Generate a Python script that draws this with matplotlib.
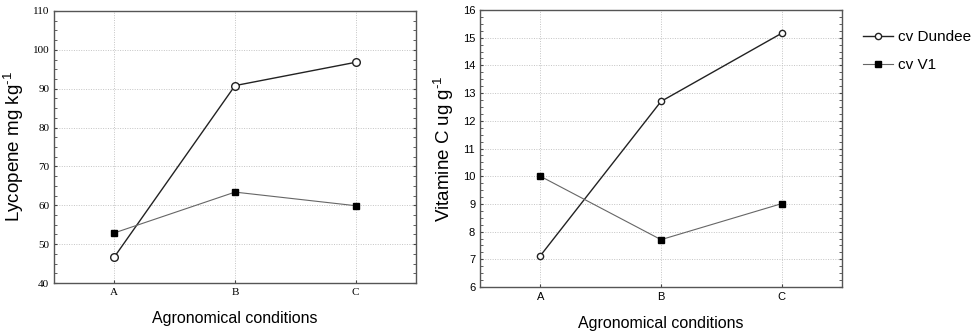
import matplotlib.pyplot as plt
from matplotlib.ticker import AutoMinorLocator

conditions = ["A", "B", "C"]
lycopene_dundee = [46.7, 90.8, 96.8]
lycopene_v1 = [52.9, 63.4, 59.9]
vitc_dundee = [7.13, 12.70, 15.16]
vitc_v1 = [10.0, 7.71, 9.01]

SANS = "Liberation Sans"
SERIF = "Liberation Serif"

plt.rcParams["axes.unicode_minus"] = False
plt.rcParams["mathtext.fontset"] = "custom"
plt.rcParams["mathtext.rm"] = SANS
plt.rcParams["mathtext.default"] = "regular"


def style_axes(ax, tick_family):
    ax.set_xlim(-0.5, 2.5)
    ax.set_xticks(range(len(conditions)))
    ax.set_xticklabels(conditions)
    for spine in ax.spines.values():
        spine.set_color("#555555")
        spine.set_linewidth(1.0)
    ax.grid(True, color="#c4c4c4", linestyle=(0, (1, 1.5)), linewidth=0.7)
    ax.tick_params(axis="both", labelsize=8, length=2, width=0.8,
                   color="#444444", direction="in")
    ax.tick_params(axis="y", right=True)
    ax.yaxis.set_minor_locator(AutoMinorLocator(4))
    ax.tick_params(axis="y", which="minor", length=2, direction="in",
                   right=True, color="#444444")
    for lab in ax.get_xticklabels() + ax.get_yticklabels():
        lab.set_fontfamily(tick_family)
    ax.set_xlabel("Agronomical conditions", fontsize=11.5, family=SANS,
                  labelpad=10)


fig = plt.figure(figsize=(9.8, 3.33), dpi=100)
ax1 = fig.add_axes([0.0551, 0.150, 0.3694, 0.817])
ax2 = fig.add_axes([0.4898, 0.138, 0.3694, 0.832])

x = range(len(conditions))

ax1.plot(x, lycopene_dundee, color="#222222", linewidth=1.0, marker="o",
         markersize=5.5, markerfacecolor="white", markeredgecolor="#222222",
         label="cv Dundee", zorder=3)
ax1.plot(x, lycopene_v1, color="#666666", linewidth=0.8, marker="s",
         markersize=4, markerfacecolor="black", markeredgecolor="black",
         label="cv V1", zorder=3)
ax1.set_ylim(40, 110)
ax1.set_yticks(range(40, 111, 10))
style_axes(ax1, SERIF)
ax1.set_ylabel(r"Lycopene mg kg$^{\text{-}1}$", fontsize=13.5, family=SANS,
               labelpad=5)

ax2.plot(x, vitc_dundee, color="#222222", linewidth=1.0, marker="o",
         markersize=4.5, markerfacecolor="white", markeredgecolor="#222222",
         label="cv Dundee", zorder=3)
ax2.plot(x, vitc_v1, color="#666666", linewidth=0.8, marker="s",
         markersize=4, markerfacecolor="black", markeredgecolor="black",
         label="cv V1", zorder=3)
ax2.set_ylim(6, 16)
ax2.set_yticks(range(6, 17))
style_axes(ax2, SANS)
ax2.set_ylabel(r"Vitamine C ug g$^{\text{-}1}$", fontsize=13.5, family=SANS,
               labelpad=5)

ax2.legend(loc="upper left", bbox_to_anchor=(1.04, 0.95), frameon=False,
           prop={"family": SANS, "size": 11}, handlelength=2.0,
           handletextpad=0.3, labelspacing=0.95, borderaxespad=0)

fig.savefig("out.png", dpi=100)
